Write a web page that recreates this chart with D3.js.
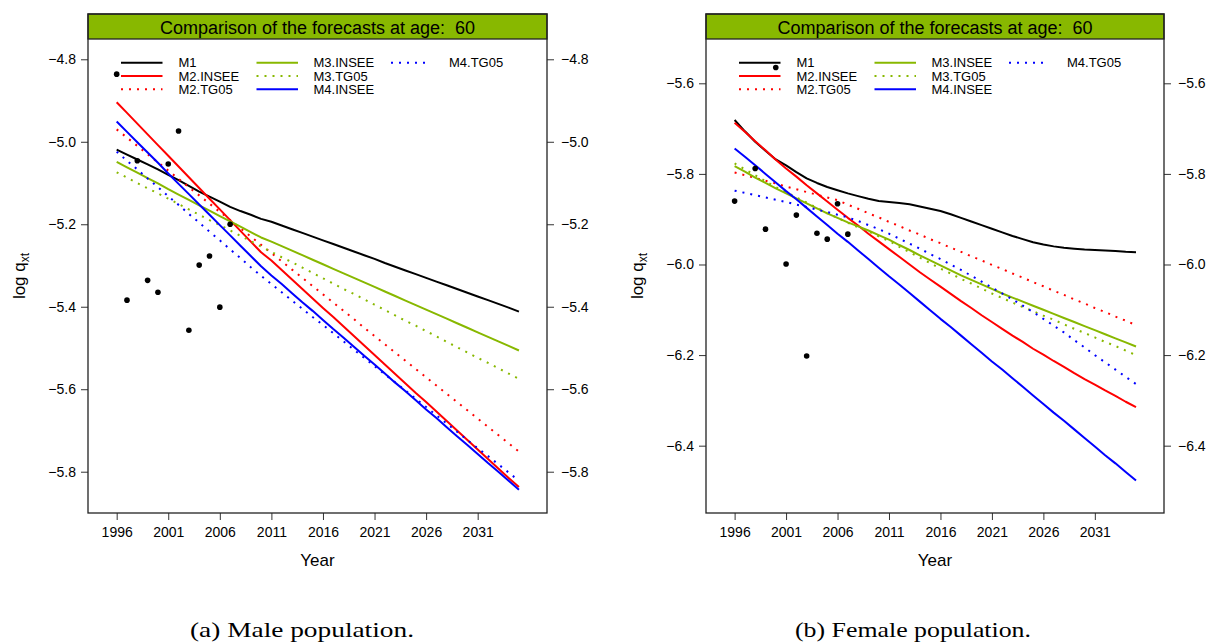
<!DOCTYPE html>
<html>
<head>
<meta charset="utf-8">
<script src="https://cdn.jsdelivr.net/npm/d3@7"></script>
<style>
  body { margin: 0; background: #fff; }
  svg { display: block; font-family: "Liberation Sans", Arial, Helvetica, sans-serif; }
</style>
</head>
<body>
<svg id="chart" width="1207" height="644"></svg>
<script>
// ---- data -------------------------------------------------------------
const years = [1996,1997,1998,1999,2000,2001,2002,2003,2004,2005,
               2006,2007,2008,2009,2010,2011,2012,2013,2014,2015,
               2016,2017,2018,2019,2020,2021,2022,2023,2024,2025,
               2026,2027,2028,2029,2030,2031,2032,2033,2034,2035];
const obsYears = [1996,1997,1998,1999,2000,2001,2002,2003,2004,2005,2006,2007];
const xTicks = [1996,2001,2006,2011,2016,2021,2026,2031];
const modelNames = ["M1","M2.INSEE","M2.TG05","M3.INSEE","M3.TG05","M4.INSEE","M4.TG05"];

// male population, age 60 (log q_xt)
const maleObserved = [-4.836,-5.384,-5.046,-5.336,-5.365,-5.054,-4.974,-5.457,-5.299,-5.277,-5.401,-5.200];
const maleM1 = [-5.019,-5.031,-5.043,-5.055,-5.067,-5.080,-5.093,-5.107,-5.121,-5.133,
                -5.145,-5.158,-5.168,-5.177,-5.187,-5.194,-5.203,-5.212,-5.221,-5.230,
                -5.239,-5.248,-5.257,-5.266,-5.275,-5.284,-5.294,-5.303,-5.312,-5.321,
                -5.330,-5.339,-5.348,-5.357,-5.366,-5.375,-5.384,-5.393,-5.402,-5.412];
const maleM2INSEE = [-4.904,-4.930,-4.956,-4.982,-5.008,-5.034,-5.060,-5.086,-5.112,-5.138,
                     -5.164,-5.190,-5.216,-5.242,-5.268,-5.288,-5.311,-5.334,-5.357,-5.380,
                     -5.403,-5.425,-5.448,-5.471,-5.494,-5.517,-5.540,-5.563,-5.586,-5.609,
                     -5.631,-5.654,-5.677,-5.700,-5.723,-5.746,-5.769,-5.792,-5.815,-5.837];
const maleM2TG05 = [-4.970,-4.990,-5.010,-5.030,-5.050,-5.070,-5.090,-5.110,-5.130,-5.150,
                    -5.170,-5.190,-5.210,-5.230,-5.250,-5.270,-5.290,-5.310,-5.330,-5.350,
                    -5.370,-5.390,-5.410,-5.430,-5.451,-5.471,-5.491,-5.511,-5.531,-5.551,
                    -5.571,-5.591,-5.611,-5.631,-5.651,-5.671,-5.691,-5.711,-5.731,-5.751];
const maleM3INSEE = [-5.049,-5.062,-5.075,-5.088,-5.101,-5.115,-5.128,-5.141,-5.154,-5.167,
                     -5.180,-5.193,-5.206,-5.219,-5.232,-5.242,-5.253,-5.264,-5.275,-5.286,
                     -5.297,-5.308,-5.319,-5.330,-5.341,-5.352,-5.363,-5.374,-5.385,-5.396,
                     -5.407,-5.418,-5.429,-5.440,-5.451,-5.462,-5.473,-5.484,-5.495,-5.506];
const maleM3TG05 = [-5.074,-5.087,-5.100,-5.113,-5.125,-5.138,-5.151,-5.164,-5.177,-5.190,
                    -5.202,-5.215,-5.228,-5.241,-5.254,-5.267,-5.280,-5.292,-5.305,-5.318,
                    -5.331,-5.344,-5.357,-5.369,-5.382,-5.395,-5.408,-5.421,-5.434,-5.446,
                    -5.459,-5.472,-5.485,-5.498,-5.511,-5.524,-5.536,-5.549,-5.562,-5.575];
const maleM4INSEE = [-4.951,-4.976,-5.001,-5.026,-5.051,-5.077,-5.102,-5.127,-5.152,-5.177,
                     -5.202,-5.227,-5.252,-5.277,-5.302,-5.324,-5.345,-5.367,-5.389,-5.410,
                     -5.432,-5.454,-5.475,-5.497,-5.519,-5.540,-5.562,-5.584,-5.605,-5.627,
                     -5.649,-5.670,-5.692,-5.714,-5.735,-5.757,-5.779,-5.800,-5.822,-5.844];
const maleM4TG05 = [-5.024,-5.046,-5.067,-5.089,-5.110,-5.132,-5.153,-5.175,-5.196,-5.218,
                    -5.239,-5.261,-5.282,-5.304,-5.325,-5.345,-5.365,-5.385,-5.405,-5.425,
                    -5.444,-5.464,-5.484,-5.504,-5.524,-5.544,-5.564,-5.583,-5.603,-5.623,
                    -5.643,-5.663,-5.683,-5.703,-5.723,-5.743,-5.762,-5.782,-5.802,-5.822];
const maleYTicks = [-4.8,-5.0,-5.2,-5.4,-5.6,-5.8];

// female population, age 60 (log q_xt); 1997 not plotted
const femaleObserved = [-5.860,null,-5.788,-5.922,-5.565,-5.999,-5.891,-6.202,-5.931,-5.944,-5.866,-5.933];
const femaleM1 = [-5.681,-5.706,-5.729,-5.749,-5.768,-5.781,-5.796,-5.810,-5.820,-5.829,
                  -5.836,-5.843,-5.849,-5.855,-5.860,-5.862,-5.864,-5.867,-5.872,-5.877,
                  -5.882,-5.889,-5.897,-5.905,-5.913,-5.921,-5.929,-5.937,-5.944,-5.951,
                  -5.956,-5.960,-5.963,-5.965,-5.967,-5.968,-5.969,-5.970,-5.972,-5.973];
const femaleM2INSEE = [-5.687,-5.707,-5.728,-5.748,-5.769,-5.788,-5.806,-5.825,-5.843,-5.861,
                       -5.879,-5.897,-5.914,-5.932,-5.949,-5.966,-5.983,-6.000,-6.017,-6.033,
                       -6.049,-6.065,-6.081,-6.096,-6.112,-6.127,-6.142,-6.157,-6.171,-6.186,
                       -6.199,-6.213,-6.226,-6.240,-6.253,-6.265,-6.278,-6.290,-6.303,-6.315];
const femaleM2TG05 = [-5.797,-5.803,-5.809,-5.815,-5.821,-5.828,-5.834,-5.840,-5.846,-5.852,
                      -5.858,-5.868,-5.877,-5.887,-5.896,-5.906,-5.915,-5.925,-5.934,-5.944,
                      -5.953,-5.963,-5.972,-5.982,-5.991,-6.001,-6.010,-6.020,-6.029,-6.039,
                      -6.048,-6.058,-6.067,-6.077,-6.086,-6.096,-6.105,-6.115,-6.124,-6.134];
const femaleM3INSEE = [-5.783,-5.795,-5.808,-5.820,-5.832,-5.843,-5.854,-5.865,-5.876,-5.887,
                       -5.897,-5.907,-5.916,-5.925,-5.935,-5.945,-5.957,-5.968,-5.980,-5.991,
                       -6.002,-6.013,-6.024,-6.034,-6.044,-6.054,-6.064,-6.073,-6.082,-6.091,
                       -6.100,-6.109,-6.118,-6.127,-6.136,-6.145,-6.154,-6.163,-6.172,-6.181];
const femaleM3TG05 = [-5.777,-5.790,-5.803,-5.816,-5.829,-5.840,-5.852,-5.863,-5.875,-5.887,
                      -5.897,-5.908,-5.918,-5.927,-5.938,-5.948,-5.961,-5.973,-5.985,-5.997,
                      -6.009,-6.020,-6.032,-6.042,-6.053,-6.064,-6.074,-6.084,-6.094,-6.103,
                      -6.113,-6.122,-6.132,-6.142,-6.151,-6.161,-6.171,-6.180,-6.190,-6.200];
const femaleM4INSEE = [-5.744,-5.762,-5.781,-5.800,-5.819,-5.838,-5.856,-5.875,-5.894,-5.913,
                       -5.932,-5.950,-5.969,-5.988,-6.007,-6.026,-6.044,-6.063,-6.082,-6.101,
                       -6.120,-6.138,-6.157,-6.176,-6.195,-6.214,-6.232,-6.251,-6.270,-6.289,
                       -6.308,-6.327,-6.345,-6.364,-6.383,-6.402,-6.421,-6.439,-6.458,-6.477];
const femaleM4TG05 = [-5.837,-5.842,-5.847,-5.852,-5.857,-5.862,-5.868,-5.873,-5.879,-5.884,
                      -5.890,-5.896,-5.904,-5.913,-5.922,-5.932,-5.943,-5.954,-5.965,-5.977,
                      -5.988,-6.000,-6.012,-6.025,-6.038,-6.051,-6.064,-6.077,-6.091,-6.105,
                      -6.120,-6.135,-6.150,-6.167,-6.183,-6.200,-6.216,-6.232,-6.248,-6.264];
const femaleYTicks = [-5.6,-5.8,-6.0,-6.2,-6.4];

// ---- styling ----------------------------------------------------------
const GREEN = "#88b800";
const modelColors = ["#000000","#ff0000","#ff0000",GREEN,GREEN,"#0000ff","#0000ff"];
const modelDotted = [false,false,true,false,true,false,true];

const svg = d3.select("#chart");
const BOX_TOP = 14, STRIP_BOTTOM = 39, PLOT_BOTTOM = 513;

const panels = [
  { left: 88, right: 547, yDomain: [-5.9001, -4.7508], yTicks: maleYTicks,
    series: [maleM1, maleM2INSEE, maleM2TG05, maleM3INSEE, maleM3TG05, maleM4INSEE, maleM4TG05],
    observed: maleObserved, caption: "(a) Male population.", captionX: 302, captionLen: 224 },
  { left: 706, right: 1164, yDomain: [-6.5486, -5.5022], yTicks: femaleYTicks,
    series: [femaleM1, femaleM2INSEE, femaleM2TG05, femaleM3INSEE, femaleM3TG05, femaleM4INSEE, femaleM4TG05],
    observed: femaleObserved, caption: "(b) Female population.", captionX: 913, captionLen: 236 }
];

function styleAxis(g) {
  g.select(".domain").remove();
  g.selectAll(".tick line").attr("stroke", "#333").attr("stroke-width", 1);
  g.selectAll(".tick text")
    .attr("fill", "#000")
    .style("font-family", "'Liberation Sans', Arial, sans-serif")
    .style("font-size", "14px");
}

panels.forEach(p => {
  const x = d3.scaleLinear().domain([1993.22, 2037.72]).range([p.left, p.right]);
  const y = d3.scaleLinear().domain(p.yDomain).range([PLOT_BOTTOM, STRIP_BOTTOM]);
  const g = svg.append("g");

  // axes
  g.append("g").attr("transform", `translate(0,${PLOT_BOTTOM})`)
    .call(d3.axisBottom(x).tickValues(xTicks).tickFormat(d3.format("d")).tickSize(7).tickPadding(7))
    .call(styleAxis);
  g.append("g").attr("transform", `translate(${p.left},0)`)
    .call(d3.axisLeft(y).tickValues(p.yTicks).tickFormat(d3.format(".1f")).tickSize(7).tickPadding(5))
    .call(styleAxis);
  g.append("g").attr("transform", `translate(${p.right},0)`)
    .call(d3.axisRight(y).tickValues(p.yTicks).tickFormat(d3.format(".1f")).tickSize(7).tickPadding(7))
    .call(styleAxis);

  // axis titles
  g.append("text")
    .attr("x", (p.left + p.right) / 2).attr("y", 566)
    .attr("text-anchor", "middle").style("font-size", "17px")
    .text("Year");
  const yl = g.append("text")
    .attr("transform", `translate(${p.left - 63},276) rotate(-90)`)
    .attr("text-anchor", "middle").style("font-size", "17px");
  yl.append("tspan").text("log q");
  yl.append("tspan").attr("dy", 4).style("font-size", "12px").text("xt");

  // model curves
  const line = d3.line().x((d, i) => x(years[i])).y(d => y(d));
  p.series.forEach((s, k) => {
    g.append("path")
      .datum(s)
      .attr("d", line)
      .attr("fill", "none")
      .attr("stroke", modelColors[k])
      .attr("stroke-width", 2)
      .attr("stroke-linejoin", "round")
      .attr("stroke-dasharray", modelDotted[k] ? "2,6" : null);
  });

  // observed rates
  g.selectAll("circle.obs")
    .data(obsYears.map((yr, i) => ({ yr, v: p.observed[i] })).filter(d => d.v !== null))
    .join("circle")
    .attr("class", "obs")
    .attr("cx", d => x(d.yr))
    .attr("cy", d => y(d.v))
    .attr("r", 2.8)
    .attr("fill", "#000");

  // legend (three columns, no frame)
  const colLine = [[33, 74.5], [168.5, 210], [303, 343]];
  const colText = [90.5, 225.5, 361];
  const rowY = [62.7, 76, 89.3];
  modelNames.forEach((name, k) => {
    const c = Math.floor(k / 3), r = k % 3;
    g.append("line")
      .attr("x1", p.left + colLine[c][0]).attr("x2", p.left + colLine[c][1])
      .attr("y1", rowY[r]).attr("y2", rowY[r])
      .attr("stroke", modelColors[k]).attr("stroke-width", 2)
      .attr("stroke-dasharray", modelDotted[k] ? "2,6" : null);
    g.append("text")
      .attr("x", p.left + colText[c]).attr("y", rowY[r] + 4.6)
      .style("font-size", "13px")
      .text(name);
  });

  // frame with title strip
  g.append("rect")
    .attr("x", p.left).attr("y", BOX_TOP)
    .attr("width", p.right - p.left).attr("height", STRIP_BOTTOM - BOX_TOP)
    .attr("fill", GREEN).attr("stroke", "#222").attr("stroke-width", 1.3);
  g.append("text")
    .attr("x", (p.left + p.right) / 2).attr("y", 34)
    .attr("text-anchor", "middle").style("font-size", "18px").style("white-space", "pre")
    .text("Comparison of the forecasts at age:  60");
  g.append("rect")
    .attr("x", p.left).attr("y", BOX_TOP)
    .attr("width", p.right - p.left).attr("height", PLOT_BOTTOM - BOX_TOP)
    .attr("fill", "none").attr("stroke", "#222").attr("stroke-width", 1.3);

  // sub-figure caption
  svg.append("text")
    .attr("x", p.captionX).attr("y", 637)
    .attr("text-anchor", "middle")
    .attr("textLength", p.captionLen).attr("lengthAdjust", "spacingAndGlyphs")
    .style("font-family", "'Liberation Serif', 'Times New Roman', serif")
    .style("font-size", "22px")
    .text(p.caption);
});
</script>
</body>
</html>
